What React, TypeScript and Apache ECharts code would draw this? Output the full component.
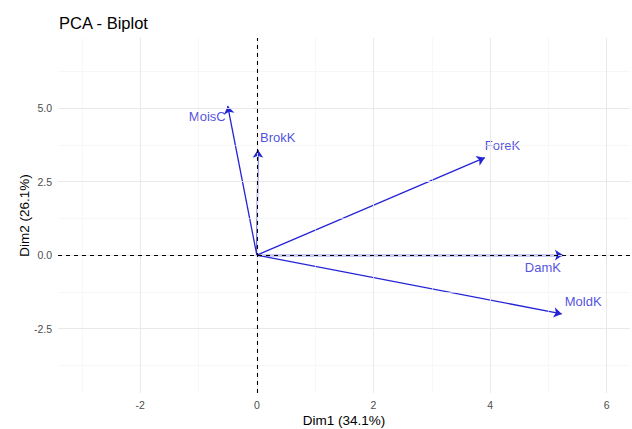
import React, { useEffect, useRef } from "react";
import * as echarts from "echarts";

const varNames = ["MoisC", "BrokK", "ForeK", "DamK", "MoldK"];
const dim1 = [-0.5, 0.02, 3.91, 5.25, 5.23];
const dim2 = [5.07, 3.58, 3.31, 0.0, -2.0];
const xTicks = [-2, 0, 2, 4, 6];
const yTicks = [-2.5, 0, 2.5, 5];
const xMinor = [-3, -1, 1, 3, 5];
const yMinor = [-3.75, -1.25, 1.25, 3.75, 6.25];

const labelStyle: Record<string, { align: string; offset: number[] }> = {
  MoisC: { align: "right", offset: [-2, 11] },
  BrokK: { align: "left", offset: [2, -12] },
  ForeK: { align: "left", offset: [0, -12] },
  DamK: { align: "right", offset: [-2, 12] },
  MoldK: { align: "left", offset: [3, -12] },
};

const BLUE = "#2424d6";
const FONT = "Liberation Sans, Arial, sans-serif";

export default function App() {
  const ref = useRef<HTMLDivElement>(null);
  useEffect(() => {
    const chart = echarts.init(ref.current!, null, { renderer: "svg" });
    const grid = (v: number, axis: "x" | "y", minor: boolean) => ({
      [axis === "x" ? "xAxis" : "yAxis"]: v,
      lineStyle: { color: minor ? "#f2f2f2" : "#e6e6e6", width: minor ? 0.6 : 0.9, type: "solid" },
    });
    const gridLines = [
      ...xMinor.map((v) => grid(v, "x", true)),
      ...yMinor.map((v) => grid(v, "y", true)),
      ...xTicks.map((v) => grid(v, "x", false)),
      ...yTicks.map((v) => grid(v, "y", false)),
    ];
    const axisCommon = {
      type: "value",
      axisLine: { show: false },
      axisTick: { show: true, length: 3, lineStyle: { color: "#4d4d4d", width: 0.8 } },
      splitLine: { show: false },
      nameLocation: "middle",
      nameMoveOverlap: false,
      nameTextStyle: { color: "#000", fontSize: 13.5, fontFamily: FONT },
    };
    chart.setOption({
      animation: false,
      backgroundColor: "#ffffff",
      title: {
        text: "PCA - Biplot",
        left: 54,
        top: 9,
        textStyle: { fontSize: 16.5, fontWeight: "normal", color: "#000", fontFamily: FONT },
      },
      grid: { left: 58, right: 2, top: 38, bottom: 36, containLabel: false, outerBoundsMode: "none" },
      xAxis: {
        ...axisCommon,
        min: -3.41,
        max: 6.4,
        name: "Dim1 (34.1%)",
        nameGap: 20,
        axisTick: { ...axisCommon.axisTick, customValues: xTicks },
        axisLabel: {
          customValues: xTicks,
          color: "#4d4d4d",
          fontSize: 10.5,
          fontFamily: FONT,
          margin: 6,
        },
      },
      yAxis: {
        ...axisCommon,
        min: -4.69,
        max: 7.38,
        name: "Dim2 (26.1%)",
        nameGap: 27,
        axisTick: { ...axisCommon.axisTick, customValues: yTicks },
        axisLabel: {
          customValues: yTicks,
          color: "#4d4d4d",
          fontSize: 10.5,
          fontFamily: FONT,
          margin: 6,
          formatter: (v: number) => v.toFixed(1),
        },
      },
      series: [
        {
          type: "line",
          data: [],
          silent: true,
          markLine: {
            silent: true,
            symbol: "none",
            label: { show: false },
            data: gridLines,
          },
        },
        {
          type: "line",
          data: [],
          silent: true,
          markLine: {
            silent: true,
            symbol: "none",
            label: { show: false },
            lineStyle: { color: "#000", type: [4, 4], width: 1.1 },
            data: [{ xAxis: 0 }, { yAxis: 0 }],
          },
        },
        {
          type: "lines",
          coordinateSystem: "cartesian2d",
          silent: true,
          symbol: ["none", "arrow"],
          symbolSize: 8,
          lineStyle: { color: BLUE, width: 1.3, opacity: 1 },
          data: varNames.map((n, i) => ({ name: n, coords: [[0, 0], [dim1[i], dim2[i]]] })),
        },
        {
          type: "scatter",
          silent: true,
          symbolSize: 1,
          itemStyle: { color: "rgba(0,0,0,0)" },
          data: varNames.map((n, i) => ({
            name: n,
            value: [dim1[i], dim2[i]],
            label: {
              show: true,
              position: "inside",
              formatter: n,
              align: labelStyle[n].align,
              verticalAlign: "middle",
              offset: labelStyle[n].offset,
              color: BLUE,
              fontSize: 13,
              fontFamily: FONT,
            },
          })),
        },
      ],
    });
    return () => chart.dispose();
  }, []);
  return <div ref={ref} style={{ width: 632, height: 429, position: "fixed", left: 0, top: 0 }} />;
}
